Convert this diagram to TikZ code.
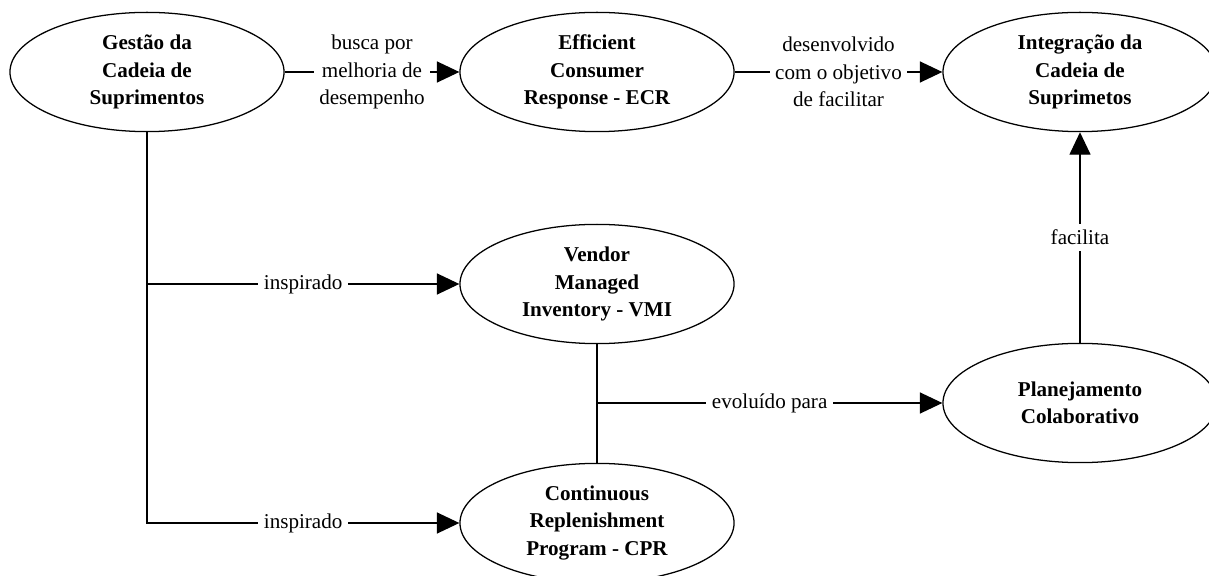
\documentclass[tikz,border=0pt]{standalone}
\usepackage{fontspec}
\setmainfont{Liberation Serif}
\usetikzlibrary{shapes.geometric,arrows.meta}

\tikzset{
  concept/.style={draw, ellipse, line width=0.9pt, minimum width=6.85cm, minimum height=2.98cm,
    inner sep=0pt, align=center, font=\fontsize{15}{19.5}\selectfont\bfseries},
  link/.style={line width=0.9pt},
  arrowlink/.style={link, -{Triangle[length=16pt,width=15pt]}},
  rel/.style={fill=white, align=center, inner sep=4pt, font=\fontsize{15}{19.5}\selectfont},
}

\begin{document}
\begin{tikzpicture}[x=0.025cm, y=-0.025cm]
  \useasboundingbox (0,0) rectangle (1209,576);

  \node[concept] (gestao) at (147,72) {Gestão da\\Cadeia de\\Suprimentos};
  \node[concept] (ecr) at (597,72) {Efficient\\Consumer\\Response - ECR};
  \node[concept] (integ) at (1080,72) {Integração da\\Cadeia de\\Suprimetos};

  \node[concept] (vmi) at (597,284) {Vendor\\Managed\\Inventory - VMI};
  \node[concept] (cpr) at (597,523) {Continuous\\Replenishment\\Program - CPR};
  \node[concept] (plan) at (1080,403) {Planejamento\\Colaborativo};

  \coordinate (branch) at (gestao.south |- vmi.west);
  \coordinate (split) at (vmi.south |- plan.west);

  \draw[arrowlink] (gestao) -- node[rel]{busca por\\melhoria de\\desempenho} (ecr);
  \draw[arrowlink] (ecr) -- node[rel]{desenvolvido\\com o objetivo\\de facilitar} (integ);

  \draw[arrowlink] (gestao.south) -- (gestao.south |- cpr.west) -- node[rel]{inspirado} (cpr.west);
  \draw[arrowlink] (branch) -- node[rel]{inspirado} (vmi.west);

  \draw[link] (vmi.south) -- (cpr.north);
  \draw[arrowlink] (split) -- node[rel]{evoluído para} (plan.west);

  \draw[arrowlink] (plan.north) -- node[rel]{facilita} (integ.south);
\end{tikzpicture}
\end{document}
